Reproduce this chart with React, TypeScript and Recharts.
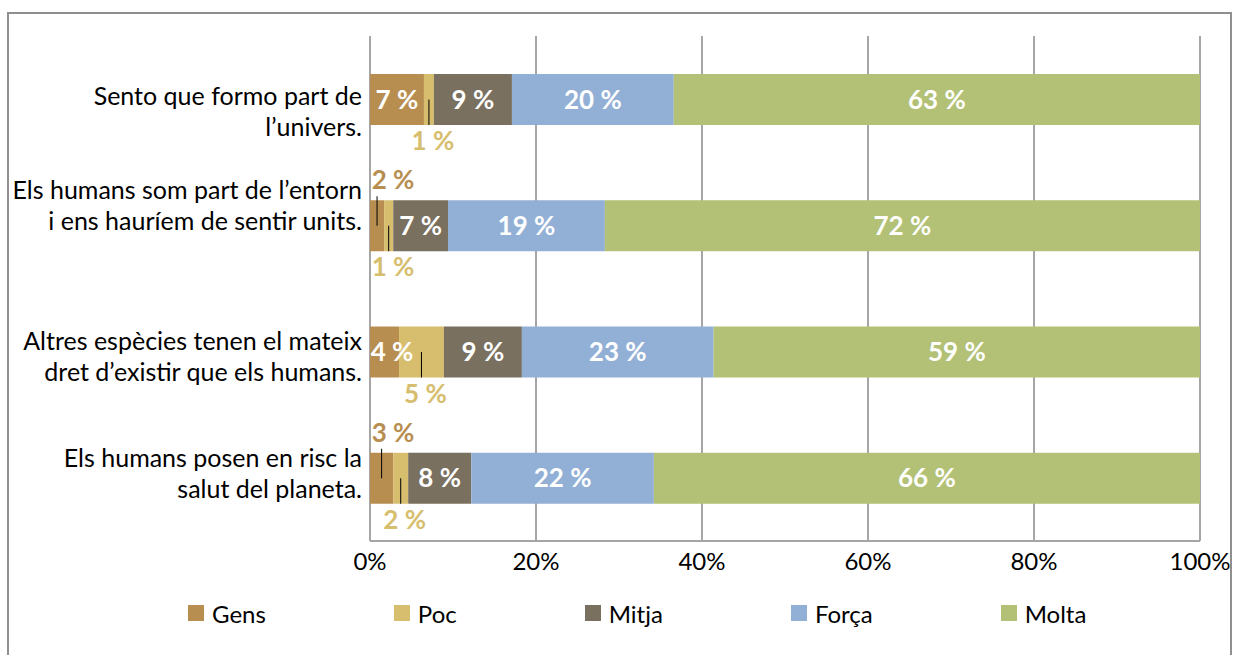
import { BarChart, Bar, XAxis, YAxis, CartesianGrid, Legend, LabelList } from 'recharts'

const categories = [
  'Sento que formo part de\nl’univers.',
  'Els humans som part de l’entorn\ni ens hauríem de sentir units.',
  'Altres espècies tenen el mateix\ndret d’existir que els humans.',
  'Els humans posen en risc la\nsalut del planeta.',
]

const gens = [6.5, 1.7, 3.5, 2.8]
const poc = [1.2, 1.1, 5.4, 1.8]
const mitja = [9.4, 6.6, 9.4, 7.6]
const forca = [19.5, 18.9, 23.1, 22.0]
const molta = [63.4, 71.7, 58.6, 65.8]

const xTicks = [0, 20, 40, 60, 80, 100]

interface SeriesConfig {
  key: string
  name: string
  color: string
  values: number[]
}

const series: SeriesConfig[] = [
  { key: 'gens', name: 'Gens', color: '#B88E50', values: gens },
  { key: 'poc', name: 'Poc', color: '#D6BE6E', values: poc },
  { key: 'mitja', name: 'Mitja', color: '#7A705F', values: mitja },
  { key: 'forca', name: 'Força', color: '#92AFD5', values: forca },
  { key: 'molta', name: 'Molta', color: '#B2C176', values: molta },
]

// décalage vertical des libellés (comme dans l'original Excel)
const tickShift = [13, -20, 5, -4]

const data = categories.map((name, i) => {
  const row: Record<string, string | number> = { name }
  series.forEach((s) => {
    row[s.key] = s.values[i]
  })
  return row
})

const FONT = 'Lato, "Open Sans", sans-serif'
const PLOT_LEFT = 370
const LABEL_SIZE = 26

const CategoryTick = (props: any) => {
  const { x, y, payload } = props
  const idx = categories.indexOf(payload.value)
  const lines: string[] = String(payload.value).split('\n')
  const lh = 31
  const start = y + (tickShift[idx] || 0) - ((lines.length - 1) * lh) / 2
  return (
    <text x={x} y={start} textAnchor="end" fontSize={25} fill="#000" fontFamily={FONT}>
      {lines.map((l, i) => (
        <tspan key={i} x={x} y={start + i * lh} dy="0.35em">
          {l}
        </tspan>
      ))}
    </text>
  )
}

const makeLabel = (s: SeriesConfig) => (props: any) => {
  const { x, y, width, height, index } = props
  const v = s.values[index]
  const text = `${Math.round(v)} %`
  const cx = x + width / 2
  const cy = y + height / 2

  // position: Poc toujours dessous, Gens au-dessus si petit
  let pos: 'inside' | 'above' | 'below' = 'inside'
  if (s.key === 'poc') pos = 'below'
  else if (s.key === 'gens' && v < 3) pos = 'above'

  if (pos === 'inside') {
    return (
      <text
        x={Math.max(cx, PLOT_LEFT + 22)}
        y={cy}
        dy="0.35em"
        textAnchor="middle"
        fontSize={LABEL_SIZE}
        fontWeight={700}
        fill="#fff"
        fontFamily={FONT}
      >
        {text}
      </text>
    )
  }

  const lx = Math.max(cx + 4, PLOT_LEFT + 23)
  if (pos === 'above') {
    return (
      <g>
        <line x1={cx} y1={cy} x2={cx} y2={y - 4} stroke="#000" strokeWidth={1} />
        <text x={lx} y={y - 20} dy="0.35em" textAnchor="middle" fontSize={LABEL_SIZE} fontWeight={700} fill={s.color} fontFamily={FONT}>
          {text}
        </text>
      </g>
    )
  }
  return (
    <g>
      <line x1={cx} y1={cy} x2={cx} y2={y + height} stroke="#000" strokeWidth={1} />
      <text x={lx} y={y + height + 16} dy="0.35em" textAnchor="middle" fontSize={LABEL_SIZE} fontWeight={700} fill={s.color} fontFamily={FONT}>
        {text}
      </text>
    </g>
  )
}

const renderLegend = () => (
  <div
    style={{
      height: 60,
      display: 'flex',
      alignItems: 'center',
      paddingLeft: 188,
      paddingBottom: 4,
      boxSizing: 'border-box',
      gap: 128,
      fontFamily: FONT,
      fontSize: 24,
      color: '#000',
    }}
  >
    {series.map((s) => (
      <div key={s.key} style={{ display: 'flex', alignItems: 'center' }}>
        <div style={{ width: 16, height: 16, backgroundColor: s.color, marginRight: 8 }} />
        <span>{s.name}</span>
      </div>
    ))}
  </div>
)

export default function App() {
  return (
    <div
      style={{
        position: 'fixed',
        left: 0,
        top: 0,
        width: 1233,
        height: 655,
        overflow: 'hidden',
        background: '#fff',
        fontFamily: FONT,
      }}
    >
      <div
        style={{
          position: 'absolute',
          left: 7,
          top: 12,
          width: 1225,
          height: 700,
          border: '2px solid #8F8F8F',
          boxSizing: 'border-box',
        }}
      />
      <div style={{ position: 'absolute', left: 0, top: 0 }}>
        <BarChart
          width={1233}
          height={655}
          data={data}
          layout="vertical"
          margin={{ top: 36, right: 33, bottom: 10, left: 0 }}
          barSize={51}
        >
          <CartesianGrid horizontal={false} stroke="#A6A6A6" strokeWidth={2} />
          <XAxis
            type="number"
            domain={[0, 100]}
            ticks={xTicks}
            tickFormatter={(v) => `${v}%`}
            tickLine={false}
            tickSize={0}
            tickMargin={12}
            height={44}
            axisLine={{ stroke: '#A6A6A6', strokeWidth: 2 }}
            tick={{ fontSize: 24, fill: '#000', fontFamily: FONT }}
            interval={0}
          />
          <YAxis
            type="category"
            dataKey="name"
            width={370}
            axisLine={false}
            tickLine={false}
            tickSize={0}
            tickMargin={8}
            tick={<CategoryTick />}
            interval={0}
          />
          <Legend verticalAlign="bottom" height={60} content={renderLegend} />
          {series.map((s) => (
            <Bar key={s.key} dataKey={s.key} name={s.name} stackId="a" fill={s.color} isAnimationActive={false}>
              <LabelList dataKey={s.key} content={makeLabel(s)} />
            </Bar>
          ))}
        </BarChart>
      </div>
    </div>
  )
}
